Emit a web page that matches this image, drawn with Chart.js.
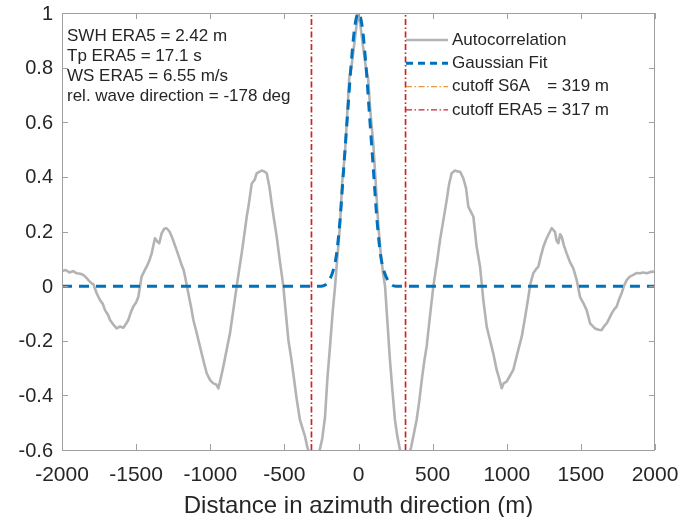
<!DOCTYPE html>
<html>
<head>
<meta charset="utf-8">
<script src="https://cdn.jsdelivr.net/npm/chart.js@4.4.1/dist/chart.umd.min.js"></script>
<style>
  html, body { margin: 0; padding: 0; background: #fff; }
  #wrap { width: 679px; height: 517px; }
</style>
</head>
<body>
<div id="wrap"><canvas id="chart" width="679" height="517"></canvas></div>
<script>
// autocorrelation (m, unitless)
const distance = [
  -2000, -1976, -1950, -1925, -1901, -1875, -1856, -1835, -1822, -1800, -1789, -1766, -1744, -1725, -1710, -1690,
  -1676, -1655, -1631, -1610, -1586, -1570, -1553, -1535, -1519, -1500, -1485, -1463, -1445, -1429, -1410, -1395,
  -1373, -1360, -1344, -1328, -1310, -1294, -1275, -1260, -1245, -1227, -1210, -1193, -1180, -1170, -1148, -1130,
  -1114, -1090, -1069, -1045, -1024, -1000, -979, -960, -945, -930, -912, -890, -867, -845, -822, -805,
  -788, -770, -754, -740, -720, -700, -687, -670, -653, -635, -619, -600, -586, -570, -552, -530,
  -507, -490, -473, -455, -440, -418, -395, -378, -361, -345, -325, -305, -285, -262, -245, -226,
  -210, -192, -175, -158, -145, -125, -110, -91, -75, -62, -48, -30, -12, 0,
  12, 30, 50, 65, 80, 100, 117, 134, 150, 165, 179, 195, 212, 230, 246, 262,
  280, 300, 320, 340, 355, 370, 392, 410, 430, 445, 460, 480, 505, 530, 550, 575,
  595, 610, 628, 651, 668, 685, 707, 725, 741, 760, 775, 797, 820, 842, 865, 888,
  909, 932, 950, 966, 980, 999, 1020, 1044, 1070, 1101, 1125, 1146, 1160, 1179, 1195, 1213,
  1230, 1247, 1265, 1280, 1303, 1315, 1325, 1337, 1348, 1360, 1370, 1385, 1404, 1425, 1449, 1472,
  1494, 1515, 1539, 1562, 1595, 1620, 1640, 1655, 1674, 1690, 1708, 1725, 1741, 1760, 1775, 1790,
  1809, 1830, 1854, 1875, 1899, 1920, 1944, 1970, 2000
]
const autocorr = [
  0.055, 0.059, 0.050, 0.055, 0.047, 0.045, 0.041, 0.030, 0.022, 0.010, 0.008, -0.026, -0.051, -0.065, -0.088, -0.105,
  -0.124, -0.140, -0.155, -0.148, -0.152, -0.140, -0.124, -0.095, -0.075, -0.060, -0.039, 0.035, 0.055, 0.071, 0.095, 0.120,
  0.175, 0.165, 0.157, 0.193, 0.210, 0.212, 0.200, 0.182, 0.160, 0.132, 0.105, 0.077, 0.060, 0.035, -0.026, -0.075,
  -0.124, -0.175, -0.222, -0.275, -0.319, -0.345, -0.356, -0.360, -0.374, -0.340, -0.295, -0.235, -0.173, -0.090, -0.002, 0.060,
  0.120, 0.190, 0.254, 0.300, 0.376, 0.390, 0.413, 0.418, 0.423, 0.420, 0.413, 0.360, 0.303, 0.245, 0.182, 0.090,
  0.000, -0.100, -0.197, -0.260, -0.319, -0.410, -0.490, -0.520, -0.550, -0.590, -0.625, -0.640, -0.630, -0.600, -0.560, -0.480,
  -0.340, -0.220, -0.100, 0.000, 0.090, 0.220, 0.380, 0.490, 0.640, 0.765, 0.800, 0.880, 0.960, 1.000,
  0.960, 0.880, 0.800, 0.760, 0.640, 0.520, 0.370, 0.220, 0.120, 0.050, 0.000, -0.130, -0.270, -0.390, -0.490, -0.550,
  -0.600, -0.630, -0.640, -0.620, -0.590, -0.550, -0.490, -0.420, -0.330, -0.270, -0.220, -0.120, 0.000, 0.090, 0.169, 0.250,
  0.315, 0.370, 0.413, 0.423, 0.420, 0.419, 0.395, 0.360, 0.291, 0.270, 0.254, 0.144, 0.071, -0.051, -0.149, -0.200,
  -0.246, -0.307, -0.340, -0.374, -0.355, -0.350, -0.330, -0.307, -0.250, -0.185, -0.110, -0.039, 0.010, 0.047, 0.060, 0.071,
  0.110, 0.144, 0.170, 0.187, 0.212, 0.205, 0.199, 0.165, 0.157, 0.190, 0.182, 0.150, 0.120, 0.090, 0.065, 0.022,
  -0.039, -0.060, -0.088, -0.136, -0.155, -0.160, -0.161, -0.148, -0.136, -0.120, -0.100, -0.085, -0.075, -0.045, -0.026, 0.000,
  0.022, 0.035, 0.041, 0.048, 0.047, 0.050, 0.047, 0.052, 0.053
]

// gaussian fit
const fitDistance = [-2000, -250, -225, -200, -175, -150, -125, -100, -75, -50, -25, 0, 25, 50, 75, 100, 125, 150, 175, 200, 225, 250, 2000]
const fitValues = [0, 0, 0.004, 0.02, 0.05, 0.11, 0.24, 0.43, 0.62, 0.81, 0.95, 1, 0.95, 0.81, 0.62, 0.43, 0.24, 0.11, 0.05, 0.02, 0.004, 0, 0]

const cutoffS6A = 319
const cutoffERA5 = 317
const yRange = [-0.6, 1]

const infoLines = ['SWH ERA5 = 2.42 m', 'Tp ERA5 = 17.1 s', 'WS ERA5 = 6.55 m/s', 'rel. wave direction = -178 deg']

const FONT = '"Liberation Sans", Arial, Helvetica, sans-serif'
const TEXT = '#262626'
const GRAY = '#b3b3b3'
const BLUE = '#0072bd'
const ORANGE = '#e8963a'
const RED = '#cc2239'
const DASH_DOT = [6, 2.5, 1.5, 2.5]

const toPoints = (xs, ys) => xs.map((x, i) => ({x: x, y: ys[i]}))
const vline = x => [{x: x, y: yRange[0]}, {x: x, y: yRange[1]}]

const legendItems = [
  {label: 'Autocorrelation', color: GRAY, width: 2.5, dash: []},
  {label: 'Gaussian Fit', color: BLUE, width: 3, dash: [7, 5]},
  {label: 'cutoff S6A', value: '= ' + cutoffS6A + ' m', color: ORANGE, width: 1.3, dash: DASH_DOT},
  {label: 'cutoff ERA5', value: '= ' + cutoffERA5 + ' m', color: RED, width: 1.3, dash: DASH_DOT},
]

// no extra room for overflowing tick labels: plot box is fixed by layout padding
const noScalePadding = s => { s.paddingLeft = s.paddingRight = s.paddingTop = s.paddingBottom = 0 }

// box, inward ticks, text block and legend
const decorations = {
  id: 'decorations',
  afterDraw(chart) {
    const {ctx, chartArea: a, scales} = chart
    ctx.save()
    ctx.strokeStyle = '#a0a0a0'
    ctx.lineWidth = 1
    ctx.strokeRect(a.left + 0.5, a.top + 0.5, a.right - a.left - 1, a.bottom - a.top)
    ctx.beginPath()
    scales.x.ticks.forEach(t => {
      const px = Math.round(scales.x.getPixelForValue(t.value)) + 0.5
      ctx.moveTo(px, a.bottom); ctx.lineTo(px, a.bottom - 6)
      ctx.moveTo(px, a.top); ctx.lineTo(px, a.top + 6)
    })
    scales.y.ticks.forEach(t => {
      const py = Math.round(scales.y.getPixelForValue(t.value)) + 0.5
      ctx.moveTo(a.left, py); ctx.lineTo(a.left + 6, py)
      ctx.moveTo(a.right, py); ctx.lineTo(a.right - 6, py)
    })
    ctx.stroke()

    ctx.fillStyle = TEXT
    ctx.font = '17px ' + FONT
    ctx.textBaseline = 'middle'
    ctx.textAlign = 'left'
    infoLines.forEach((s, i) => ctx.fillText(s, a.left + 5, 36 + i * 20))

    const eqX = 452 + ctx.measureText('cutoff ERA5 ').width
    legendItems.forEach((it, i) => {
      const y = 40 + i * 23.3
      ctx.save()
      ctx.strokeStyle = it.color
      ctx.lineWidth = it.width
      ctx.setLineDash(it.dash)
      ctx.beginPath()
      ctx.moveTo(406, y); ctx.lineTo(448, y)
      ctx.stroke()
      ctx.restore()
      ctx.fillText(it.label, 452, y)
      if (it.value) ctx.fillText(it.value, eqX, y)
    })
    ctx.restore()
  }
}

new Chart('chart', {
  type: 'scatter',
  data: {
    datasets: [
      {data: vline(-cutoffERA5), showLine: true, borderColor: RED, borderWidth: 1.6, borderDash: DASH_DOT, pointRadius: 0},
      {data: vline(cutoffERA5), showLine: true, borderColor: RED, borderWidth: 1.6, borderDash: DASH_DOT, pointRadius: 0},
      {data: vline(-cutoffS6A), showLine: true, borderColor: ORANGE, borderWidth: 0.8, borderDash: DASH_DOT, pointRadius: 0},
      {data: vline(cutoffS6A), showLine: true, borderColor: ORANGE, borderWidth: 0.8, borderDash: DASH_DOT, pointRadius: 0},
      {data: toPoints(fitDistance, fitValues), showLine: true, borderColor: BLUE, borderWidth: 3, borderDash: [10, 7],
        pointRadius: 0, cubicInterpolationMode: 'monotone'},
      {data: toPoints(distance, autocorr), showLine: true, borderColor: GRAY, borderWidth: 2.6, pointRadius: 0,
        borderJoinStyle: 'round'},
    ]
  },
  options: {
    responsive: false,
    animation: false,
    layout: {padding: {left: 0, right: 24, top: 13, bottom: 0}},
    plugins: {
      legend: {display: false},
      tooltip: {enabled: false},
    },
    scales: {
      x: {
        type: 'linear',
        min: -2000, max: 2000,
        grid: {display: false, drawTicks: false},
        border: {display: false},
        ticks: {stepSize: 500, color: TEXT, font: {family: FONT, size: 21}, padding: 13, maxRotation: 0,
          callback: v => String(v)},
        title: {display: true, text: 'Distance in azimuth direction (m)', color: TEXT,
          font: {family: FONT, size: 24}, padding: {top: 0, bottom: -4}},
        afterFit: s => { s.height = 67; noScalePadding(s) }
      },
      y: {
        min: yRange[0], max: yRange[1],
        grid: {display: false, drawTicks: false},
        border: {display: false},
        ticks: {stepSize: 0.2, color: TEXT, font: {family: FONT, size: 20}, padding: 9, labelOffset: 1,
          callback: v => String(Math.round(v * 10) / 10)},
        afterFit: s => { s.width = 62; noScalePadding(s) }
      }
    }
  },
  plugins: [decorations]
})
</script>
</body>
</html>
